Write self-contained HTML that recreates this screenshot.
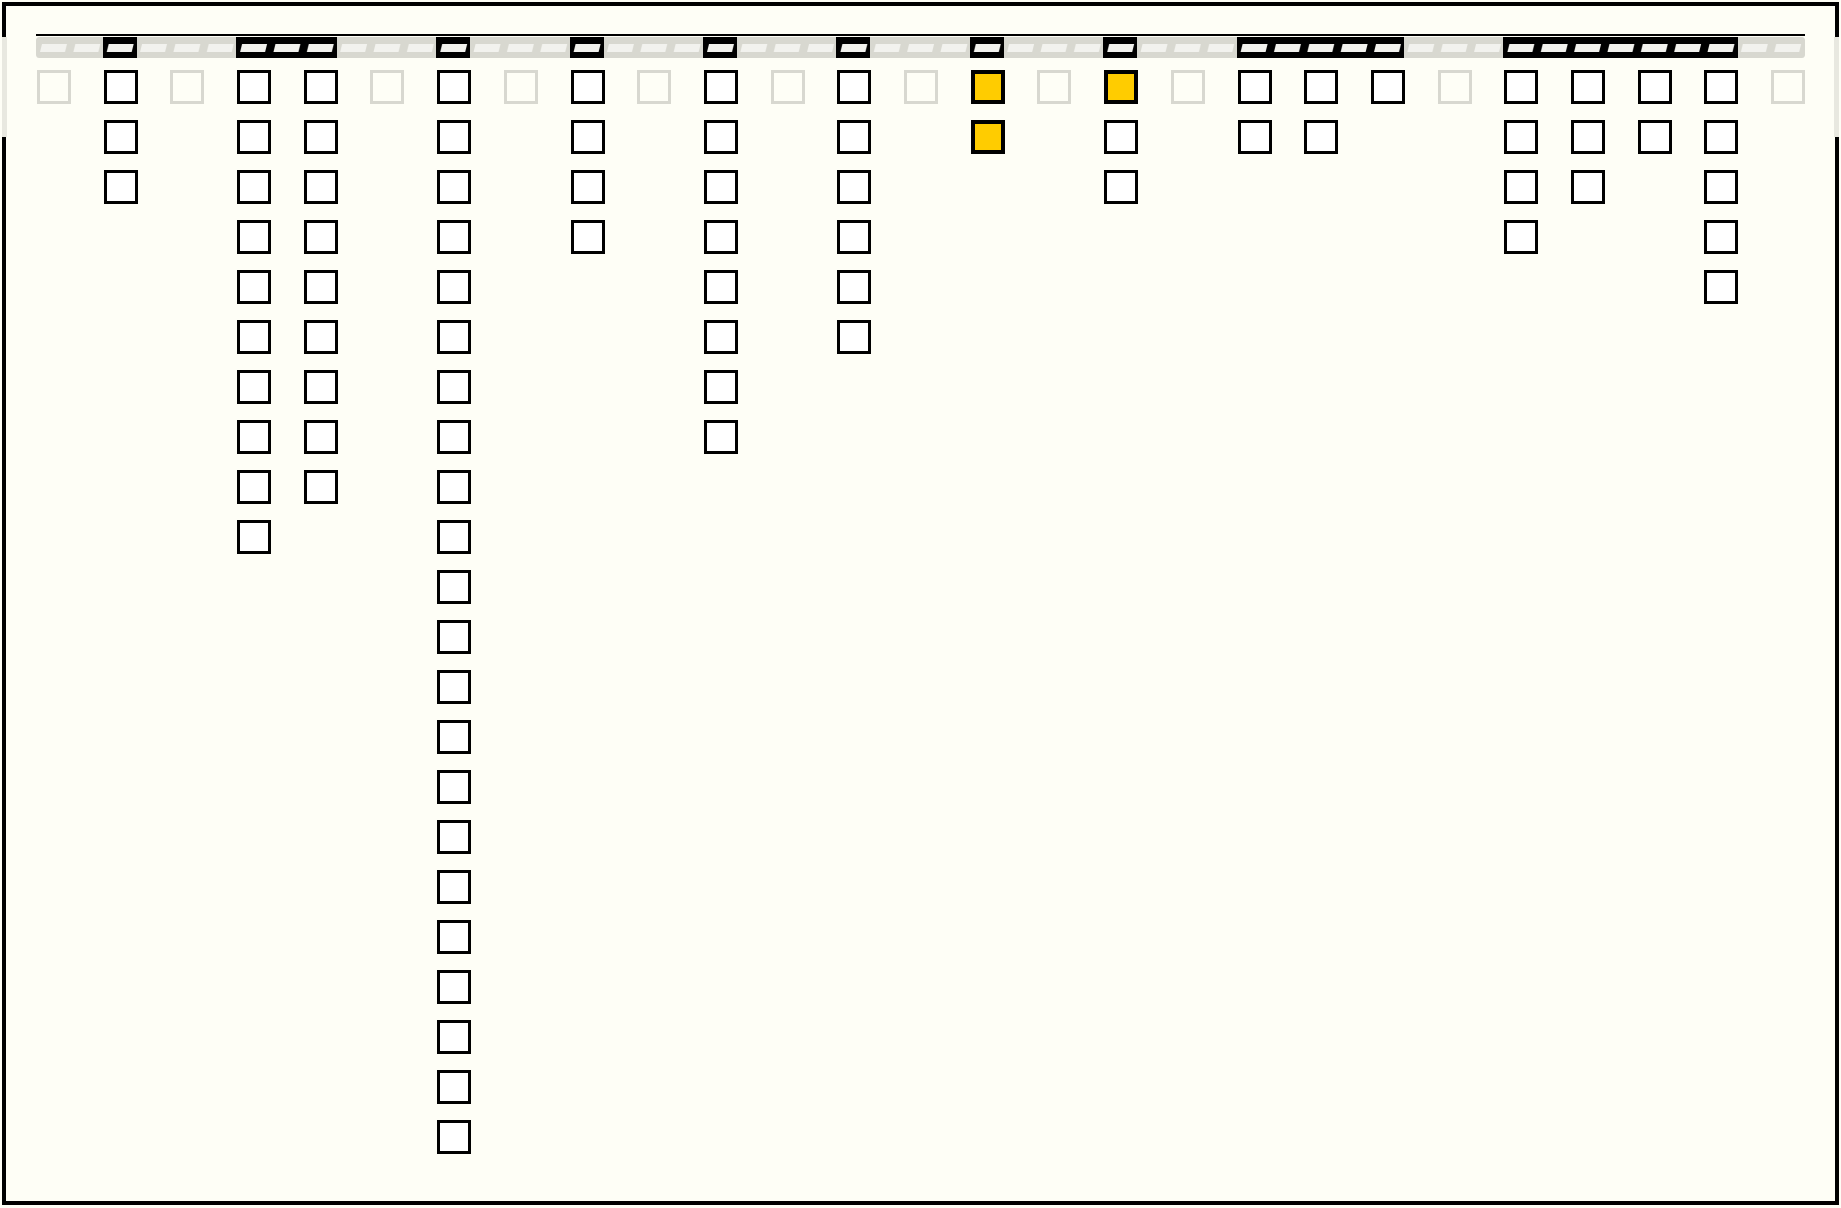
<!DOCTYPE html>
<html><head><meta charset="utf-8"><style>
html,body{margin:0;padding:0;background:#fefef6;}
svg{display:block}
</style></head><body>
<svg width="1841" height="1208" viewBox="0 0 1841 1208" xmlns="http://www.w3.org/2000/svg">
<defs>
<pattern id="par" x="36" y="0" width="33.35" height="1208" patternUnits="userSpaceOnUse">
<polygon points="4,52 29,52 31,44 6,44" fill="#f2f2ee"/>
</pattern>
<rect id="w" x="1.5" y="1.5" width="31" height="31" fill="#ffffff" stroke="#000" stroke-width="3"/>
<rect id="g" x="1.5" y="1.5" width="31" height="31" fill="none" stroke="#d8d8d0" stroke-width="3"/>
<rect id="y" x="2" y="2" width="30" height="30" fill="#ffcc00" stroke="#000" stroke-width="4"/>
</defs>
<rect x="0" y="0" width="1841" height="1208" fill="#fefef6"/>
<rect x="4" y="4" width="1833" height="1199" fill="none" stroke="#000" stroke-width="4"/>
<rect x="2" y="37" width="5" height="100" fill="#e8e8e0"/>
<rect x="1834" y="37" width="5" height="100" fill="#e8e8e0"/>
<line x1="36" y1="35" x2="1805" y2="35" stroke="#000" stroke-width="2"/>
<rect x="36" y="37" width="1769" height="21" rx="3" fill="#d8d8d0"/>
<g fill="#000">
<rect x="103" y="37" width="34" height="21"/>
<rect x="236" y="37" width="101" height="21"/>
<rect x="436" y="37" width="34" height="21"/>
<rect x="570" y="37" width="34" height="21"/>
<rect x="703" y="37" width="34" height="21"/>
<rect x="836" y="37" width="34" height="21"/>
<rect x="970" y="37" width="34" height="21"/>
<rect x="1103" y="37" width="34" height="21"/>
<rect x="1237" y="37" width="167" height="21"/>
<rect x="1503" y="37" width="235" height="21"/>
</g>
<rect x="36" y="40" width="1769" height="16" fill="url(#par)"/>

<use href="#g" x="37" y="70"/><use href="#g" x="170" y="70"/><use href="#g" x="370" y="70"/>
<use href="#g" x="504" y="70"/><use href="#g" x="637" y="70"/><use href="#g" x="771" y="70"/>
<use href="#g" x="904" y="70"/><use href="#g" x="1037" y="70"/><use href="#g" x="1171" y="70"/>
<use href="#g" x="1438" y="70"/><use href="#g" x="1771" y="70"/>

<g transform="translate(104,0)"><use href="#w" y="70"/><use href="#w" y="120"/><use href="#w" y="170"/></g>
<g transform="translate(237,0)"><use href="#w" y="70"/><use href="#w" y="120"/><use href="#w" y="170"/><use href="#w" y="220"/><use href="#w" y="270"/><use href="#w" y="320"/><use href="#w" y="370"/><use href="#w" y="420"/><use href="#w" y="470"/><use href="#w" y="520"/></g>
<g transform="translate(304,0)"><use href="#w" y="70"/><use href="#w" y="120"/><use href="#w" y="170"/><use href="#w" y="220"/><use href="#w" y="270"/><use href="#w" y="320"/><use href="#w" y="370"/><use href="#w" y="420"/><use href="#w" y="470"/></g>
<g transform="translate(437,0)"><use href="#w" y="70"/><use href="#w" y="120"/><use href="#w" y="170"/><use href="#w" y="220"/><use href="#w" y="270"/><use href="#w" y="320"/><use href="#w" y="370"/><use href="#w" y="420"/><use href="#w" y="470"/><use href="#w" y="520"/><use href="#w" y="570"/><use href="#w" y="620"/><use href="#w" y="670"/><use href="#w" y="720"/><use href="#w" y="770"/><use href="#w" y="820"/><use href="#w" y="870"/><use href="#w" y="920"/><use href="#w" y="970"/><use href="#w" y="1020"/><use href="#w" y="1070"/><use href="#w" y="1120"/></g>
<g transform="translate(571,0)"><use href="#w" y="70"/><use href="#w" y="120"/><use href="#w" y="170"/><use href="#w" y="220"/></g>
<g transform="translate(704,0)"><use href="#w" y="70"/><use href="#w" y="120"/><use href="#w" y="170"/><use href="#w" y="220"/><use href="#w" y="270"/><use href="#w" y="320"/><use href="#w" y="370"/><use href="#w" y="420"/></g>
<g transform="translate(837,0)"><use href="#w" y="70"/><use href="#w" y="120"/><use href="#w" y="170"/><use href="#w" y="220"/><use href="#w" y="270"/><use href="#w" y="320"/></g>
<g transform="translate(971,0)"><use href="#y" y="70"/><use href="#y" y="120"/></g>
<g transform="translate(1104,0)"><use href="#y" y="70"/><use href="#w" y="120"/><use href="#w" y="170"/></g>
<g transform="translate(1238,0)"><use href="#w" y="70"/><use href="#w" y="120"/></g>
<g transform="translate(1304,0)"><use href="#w" y="70"/><use href="#w" y="120"/></g>
<g transform="translate(1371,0)"><use href="#w" y="70"/></g>
<g transform="translate(1504,0)"><use href="#w" y="70"/><use href="#w" y="120"/><use href="#w" y="170"/><use href="#w" y="220"/></g>
<g transform="translate(1571,0)"><use href="#w" y="70"/><use href="#w" y="120"/><use href="#w" y="170"/></g>
<g transform="translate(1638,0)"><use href="#w" y="70"/><use href="#w" y="120"/></g>
<g transform="translate(1704,0)"><use href="#w" y="70"/><use href="#w" y="120"/><use href="#w" y="170"/><use href="#w" y="220"/><use href="#w" y="270"/></g>
</svg>
</body></html>
